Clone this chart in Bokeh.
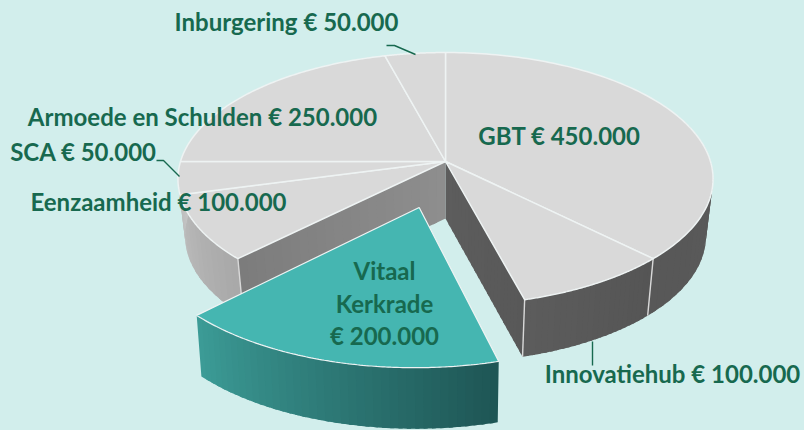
import numpy as np
from bokeh.core.properties import value
from bokeh.embed import file_html
from bokeh.models import Range1d
from bokeh.plotting import figure
from bokeh.resources import INLINE

categories = ["GBT", "Innovatiehub", "Vitaal Kerkrade", "Eenzaamheid", "SCA", "Armoede en Schulden", "Inburgering"]
amounts = [450000, 100000, 200000, 100000, 50000, 250000, 50000]

label_texts = ["GBT € 450.000", "Innovatiehub € 100.000", "Vitaal", "Kerkrade", "€ 200.000",
               "Eenzaamheid € 100.000", "SCA € 50.000", "Armoede en Schulden € 250.000", "Inburgering € 50.000"]
label_x = [559, 672, 384, 384, 384, 158, 83, 202, 286]
label_y = [135, 373, 270, 303, 335, 201, 151, 116, 21]

leader_x = [[386, 394, 415], [156, 163, 179], [592, 592]]
leader_y = [[45, 45, 54], [160, 160, 176], [341, 365]]

BG = "#d2eeec"
TOP = "#d9d9d9"
TEAL = "#45b6b1"
EDGE = "#eef3f3"
TEXT = "#17694f"
CX, CY, A, B, K = 445.0, 161.0, 265.0, 124.0, 0.138
DEPTH_Y, DEPTH_A = 57.0, 258.0
EXPLODE = 0.365

p = figure(width=804, height=430, output_backend="svg", toolbar_location=None,
           x_range=Range1d(0, 804), y_range=Range1d(430, 0),
           background_fill_color=BG, border_fill_color=BG, min_border=0, outline_line_color=None)
p.axis.visible = False
p.grid.visible = False

edges = np.cumsum([0] + amounts) / sum(amounts) * 360.0


def proj(theta, radius=1.0, off=(0.0, 0.0), a=A, cy=CY):
    t = np.radians(np.asarray(theta, dtype=float))
    u = radius * np.sin(t) + off[0]
    v = radius * np.cos(t) + off[1]
    den = 1 + K * v
    return CX + a * u / den, cy - B * v / den


def mix(c1, c2, f):
    a_ = np.array([int(c1[i:i + 2], 16) for i in (1, 3, 5)], dtype=float)
    b_ = np.array([int(c2[i:i + 2], 16) for i in (1, 3, 5)], dtype=float)
    r = a_ + (b_ - a_) * f
    return "#%02x%02x%02x" % tuple(int(round(x)) for x in r)


def rim_strips(t0, t1, c0, c1, off=(0.0, 0.0), dy=DEPTH_Y, da=DEPTH_A, n=24):
    ts = np.linspace(t0, t1, n + 1)
    step = (t1 - t0) / n
    xs, ys, cs = [], [], []
    for i in range(n):
        # each strip runs on under the next one, so no seam shows between them
        end = ts[i + 1] + (step * 0.5 if i < n - 1 else 0.0)
        tt = np.linspace(ts[i], end, 4)
        x1, y1 = proj(tt, off=off)
        x2, y2 = proj(tt[::-1], off=off, a=da, cy=CY + dy)
        xs.append(np.r_[x1, x2].tolist())
        ys.append(np.r_[y1, y2].tolist())
        cs.append(mix(c0, c1, (i + .5) / n))
    p.patches(xs, ys, fill_color=cs, line_color=None)


def wall(theta, c0, c1, n=24):
    xo, yo = proj([0.0], radius=0.0)
    xb, yb = proj([0.0], radius=0.0, a=DEPTH_A, cy=CY + DEPTH_Y)
    xr, yr = proj([theta])
    xs_, ys_ = proj([theta], a=DEPTH_A, cy=CY + DEPTH_Y)
    xs, ys, cs = [], [], []
    for i in range(n):
        f0, f1 = i / n, min(1.0, (i + 1.5) / n)
        xs.append([xo[0] + (xr[0] - xo[0]) * f0, xo[0] + (xr[0] - xo[0]) * f1,
                   xb[0] + (xs_[0] - xb[0]) * f1, xb[0] + (xs_[0] - xb[0]) * f0])
        ys.append([yo[0] + (yr[0] - yo[0]) * f0, yo[0] + (yr[0] - yo[0]) * f1,
                   yb[0] + (ys_[0] - yb[0]) * f1, yb[0] + (ys_[0] - yb[0]) * f0])
        cs.append(mix(c0, c1, (i + .5) / n))
    p.patches(xs, ys, fill_color=cs, line_color=None)


def sector(t0, t1, off=(0.0, 0.0)):
    ts = np.linspace(t0, t1, 120)
    x, y = proj(ts, off=off)
    xo, yo = proj([0.0], radius=0.0, off=off)
    return np.r_[xo, x].tolist(), np.r_[yo, y].tolist()


g_end, inn_end, vit_end, een_end, sca_end, arm_end = edges[1:7]

# outer rim of the main pie
rim_strips(70, g_end, "#5a5a5a", "#585858")
rim_strips(g_end, inn_end, "#555555", "#5c5c5c")
rim_strips(vit_end, 285, "#a8a8a8", "#cdcdcd")

# inner walls of the gap
wall(inn_end, "#5d5d5d", "#585858")
wall(vit_end, "#8e8e8e", "#7c7c7c")

# vertical rim edges
for th in (g_end, inn_end, vit_end):
    xa, ya = proj([th])
    xb, yb = proj([th], a=DEPTH_A, cy=CY + DEPTH_Y)
    p.line([xa[0], xb[0]], [ya[0], yb[0]], line_color="#d8d8d8", line_width=1.4)

# top face of the main pie
for i in (0, 1, 3, 4, 5, 6):
    x, y = sector(edges[i], edges[i + 1])
    p.patch(x, y, fill_color=TOP, line_color=EDGE, line_width=1.5)

# exploded slice
mid = np.radians((edges[2] + edges[3]) / 2)
off = (EXPLODE * np.sin(mid), EXPLODE * np.cos(mid))
rim_strips(vit_end, inn_end, "#3c9c97", "#1e5554", off=off, dy=61.0, da=260.0, n=40)
x, y = sector(inn_end, vit_end, off=off)
p.patch(x, y, fill_color=TEAL, line_color=EDGE, line_width=1.2)

# leader lines
for lx, ly in zip(leader_x, leader_y):
    p.line(lx, ly, line_color=TEXT, line_width=1.4)

p.text(label_x, label_y, text=label_texts, text_font=value("Lato"), text_font_style="bold",
       text_font_size="24px", text_color=TEXT, text_align="center", text_baseline="middle")

html = file_html(p, INLINE)
html = html.replace("</head>", "<style>html,body{margin:0;padding:0;overflow:hidden;background:%s}</style></head>" % BG)
open("out.html", "w").write(html)
